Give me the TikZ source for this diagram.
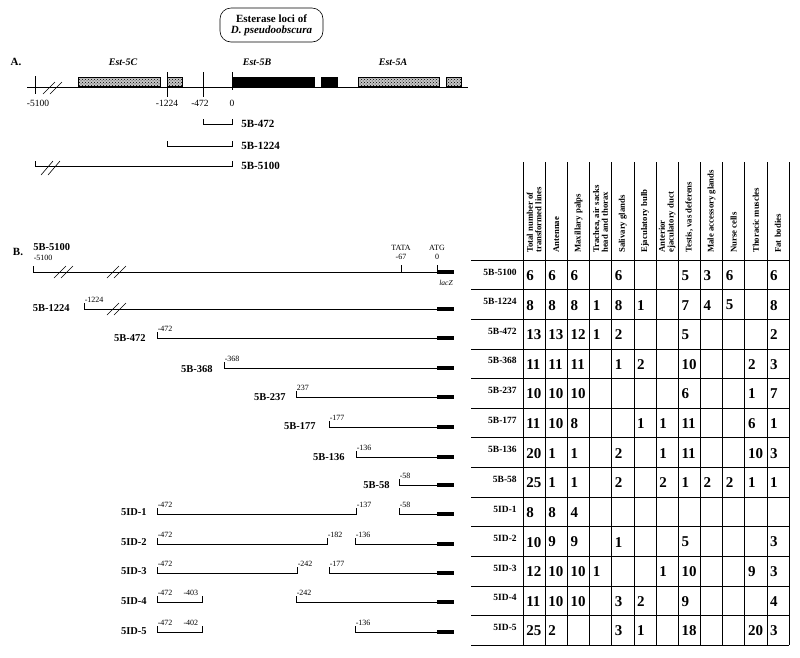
\documentclass[tikz,border=0pt]{standalone}
\usepackage{fontspec}
\setmainfont{Liberation Serif}
\usetikzlibrary{patterns}
\newcommand\fsz[1]{\fontsize{#1}{#1}\selectfont}

\tikzset{
  cell/.style={font=\fsz{15}\bfseries, anchor=west, inner sep=2pt},
  rowlab/.style={font=\fsz{9.5}\bfseries, anchor=east, inner sep=1pt},
  colhead/.style={font=\fsz{8.7}\bfseries, rotate=90, anchor=west, align=left, inner sep=1pt},
  posnum/.style={font=\fsz{8}, inner sep=0.5pt},
  conlab/.style={font=\fsz{10.5}\bfseries, anchor=east, inner sep=1pt},
  idlab/.style={font=\fsz{10.5}\bfseries, anchor=east, inner sep=1pt},
  genelab/.style={font=\fsz{10}\bfseries\itshape},
  alab/.style={font=\fsz{11}\bfseries, anchor=west, inner sep=1pt},
  anum/.style={font=\fsz{9.5}, inner sep=0.5pt},
  hatchbox/.style={draw, preaction={fill=gray!45}, pattern=crosshatch dots},
  lacz/.style={line width=4pt},
}

\begin{document}
\begin{tikzpicture}[x=1pt,y=-1pt,line width=0.6pt]
\useasboundingbox (0,0) rectangle (800,657);

%title
\node[draw, rounded corners=11pt, font=\fsz{11}\bfseries, align=center, minimum width=103, minimum height=34, inner sep=1pt] (title) at (271.5,25) {Esterase loci of\\ \textit{D. pseudoobscura}};

%part A: the loci
\node[font=\fsz{11}\bfseries] (partA) at (16,62) {A.};
\draw (27,87) -- (468,87);
\draw[hatchbox] (78,77) rectangle (160,86);
\draw[hatchbox] (167,77) rectangle (182,86);
\draw[fill=black] (232,77) rectangle (314,87);
\draw[fill=black] (321,77) rectangle (337,87);
\draw[hatchbox] (358,77) rectangle (439,86);
\draw[hatchbox] (446,77) rectangle (461,86);
\draw (35,76) -- (35,94);
\draw (167,72) -- (167,97);
\draw (203,72) -- (203,97);
\draw (232,72) -- (232,90);
\draw (43,94) -- (55,82);
\draw (50,94) -- (62,82);
\node[genelab] (est5c) at (123,62) {Est-5C};
\node[genelab] (est5b) at (257,62) {Est-5B};
\node[genelab] (est5a) at (393,62) {Est-5A};
\node[anum] (a5100) at (38,103) {-5100};
\node[anum] (a1224) at (167,103) {-1224};
\node[anum] (a472) at (200,103) {-472};
\node[anum] (a0) at (232,103) {0};

%constructs under A
\draw (203,119) -- (203,124) -- (232,124) -- (232,119);
\draw (167,141) -- (167,146) -- (232,146) -- (232,141);
\draw (35,161) -- (35,166) -- (232,166) -- (232,161);
\draw (41,175) -- (53,161);
\draw (48,175) -- (60,161);
\node[alab] (k472) at (240,124) {5B-472};
\node[alab] (k1224) at (240,146) {5B-1224};
\node[alab] (k5100) at (240,166) {5B-5100};

%part B: the deletion constructs
\node[font=\fsz{11}\bfseries] (partB) at (18,252) {B.};
\node[conlab, anchor=west] (b5100) at (32,247) {5B-5100};
\node[posnum, anchor=west] (p5100) at (33,258) {-5100};
\draw[line width=0.8pt] (33,266) -- (33,272) -- (437,272);
\draw (54,278) -- (66,266);
\draw (61,278) -- (73,266);
\draw (107,278) -- (119,266);
\draw (114,278) -- (126,266);
\draw (401,265) -- (401,272);
\draw (437,265) -- (437,272);
\node[posnum] (tata) at (401,248) {TATA};
\node[posnum] (p67) at (401,257) {-67};
\node[posnum] (atg) at (437,248) {ATG};
\node[posnum] (p0) at (437,257) {0};
\draw[lacz] (437,272) -- (454,272);
\node[font=\fsz{7.5}\itshape] (lacz) at (446,283) {lacZ};

\node[conlab] (b1224) at (71,308) {5B-1224};
\node[posnum, anchor=south west] (p1224) at (84,303) {-1224};
\draw (84,303) -- (84,309) -- (437,309);
\draw (107,315) -- (119,303);
\draw (114,315) -- (126,303);
\draw[lacz] (437,309) -- (454,309);

\node[conlab] (b472) at (147,338) {5B-472};
\node[posnum, anchor=south west] (p472) at (157,332) {-472};
\draw (157,332) -- (157,338) -- (437,338);
\draw[lacz] (437,338) -- (454,338);

\node[conlab] (b368) at (214,369) {5B-368};
\node[posnum, anchor=south west] (p368) at (224,362) {-368};
\draw (224,362) -- (224,368) -- (437,368);
\draw[lacz] (437,368) -- (454,368);

\node[conlab] (b237) at (287,397) {5B-237};
\node[posnum, anchor=south west] (p237) at (296,391) {237};
\draw (296,391) -- (296,397) -- (437,397);
\draw[lacz] (437,397) -- (454,397);

\node[conlab] (b177) at (317,426) {5B-177};
\node[posnum, anchor=south west] (p177) at (329,421) {-177};
\draw (329,421) -- (329,427) -- (437,427);
\draw[lacz] (437,427) -- (454,427);

\node[conlab] (b136) at (346,457) {5B-136};
\node[posnum, anchor=south west] (p136) at (356,451) {-136};
\draw (356,451) -- (356,457) -- (437,457);
\draw[lacz] (437,457) -- (454,457);

\node[conlab] (b58) at (391,485) {5B-58};
\node[posnum, anchor=south west] (p58) at (399,479) {-58};
\draw (399,479) -- (399,485) -- (437,485);
\draw[lacz] (437,485) -- (454,485);

%internal deletions
\node[idlab] (d1) at (148,512) {5ID-1};
\node[posnum, anchor=south west] (d1a) at (157,508) {-472};
\node[posnum, anchor=south west] (d1b) at (356,508) {-137};
\node[posnum, anchor=south west] (d1c) at (399,508) {-58};
\draw (157,508) -- (157,514) -- (356,514) -- (356,508);
\draw (399,508) -- (399,514) -- (437,514);
\draw[lacz] (437,514) -- (454,514);

\node[idlab] (d2) at (148,542) {5ID-2};
\node[posnum, anchor=south west] (d2a) at (157,538) {-472};
\node[posnum, anchor=south west] (d2b) at (327,538) {-182};
\node[posnum, anchor=south west] (d2c) at (355,538) {-136};
\draw (157,538) -- (157,544) -- (327,544) -- (327,538);
\draw (355,538) -- (355,544) -- (437,544);
\draw[lacz] (437,544) -- (454,544);

\node[idlab] (d3) at (148,571) {5ID-3};
\node[posnum, anchor=south west] (d3a) at (157,567) {-472};
\node[posnum, anchor=south west] (d3b) at (297,567) {-242};
\node[posnum, anchor=south west] (d3c) at (329,567) {-177};
\draw (157,567) -- (157,573) -- (297,573) -- (297,567);
\draw (329,567) -- (329,573) -- (437,573);
\draw[lacz] (437,573) -- (454,573);

\node[idlab] (d4) at (148,601) {5ID-4};
\node[posnum, anchor=south west] (d4a) at (157,596) {-472};
\node[posnum, anchor=south east] (d4b) at (199,596) {-403};
\node[posnum, anchor=south west] (d4c) at (296,596) {-242};
\draw (157,596) -- (157,602) -- (202,602) -- (202,596);
\draw (296,596) -- (296,602) -- (437,602);
\draw[lacz] (437,602) -- (454,602);

\node[idlab] (d5) at (148,631) {5ID-5};
\node[posnum, anchor=south west] (d5a) at (157,626) {-472};
\node[posnum, anchor=south east] (d5b) at (199,626) {-402};
\node[posnum, anchor=south west] (d5c) at (355,626) {-136};
\draw (157,626) -- (157,632) -- (202,632) -- (202,626);
\draw (355,626) -- (355,632) -- (437,632);
\draw[lacz] (437,632) -- (454,632);

%table of expression
\foreach \i in {0,...,12}
  \draw ({523+22.17*\i},162) -- ({523+22.17*\i},645);
\foreach \j in {0,...,13}
  \draw (471,{260+29.62*\j}) -- (789,{260+29.62*\j});
\foreach \txt [count=\i] in {{Total number of\\transformed lines}, Antennae, Maxillary palps,
    {Trachea, air sacks\\head and thorax}, Salivary glands, Ejaculatory bulb,
    {Anterior\\ejaculatory duct}, {Testis, vas deferens}, Male accessory glands,
    Nurse cells, Thoracic muscles, Fat bodies}
  \node[colhead] (h\i) at ({523+22.17*\i-11.08},254) {\txt};
\foreach \lab/\vals [count=\r] in {
    5B-5100/{6,6,6,,6,,,5,3,6,,6},
    5B-1224/{8,8,8,1,8,1,,7,4,5,,8},
    5B-472/{13,13,12,1,2,,,5,,,,2},
    5B-368/{11,11,11,,1,2,,10,,,2,3},
    5B-237/{10,10,10,,,,,6,,,1,7},
    5B-177/{11,10,8,,,1,1,11,,,6,1},
    5B-136/{20,1,1,,2,,1,11,,,10,3},
    5B-58/{25,1,1,,2,,2,1,2,2,1,1},
    5ID-1/{8,8,4,,,,,,,,,},
    5ID-2/{10,9,9,,1,,,5,,,,3},
    5ID-3/{12,10,10,1,,,1,10,,,9,3},
    5ID-4/{11,10,10,,3,2,,9,,,,4},
    5ID-5/{25,2,,,3,1,,18,,,20,3}}
{
  \node[rowlab] (r\r) at (518,{260+29.62*(\r-1)+12}) {\lab};
  \foreach \v [count=\c] in \vals
    \node[cell] (c\r-\c) at ({523+22.17*(\c-1)+1},{260+29.62*(\r-1)+15.5}) {\v};
}
\end{tikzpicture}
\end{document}
